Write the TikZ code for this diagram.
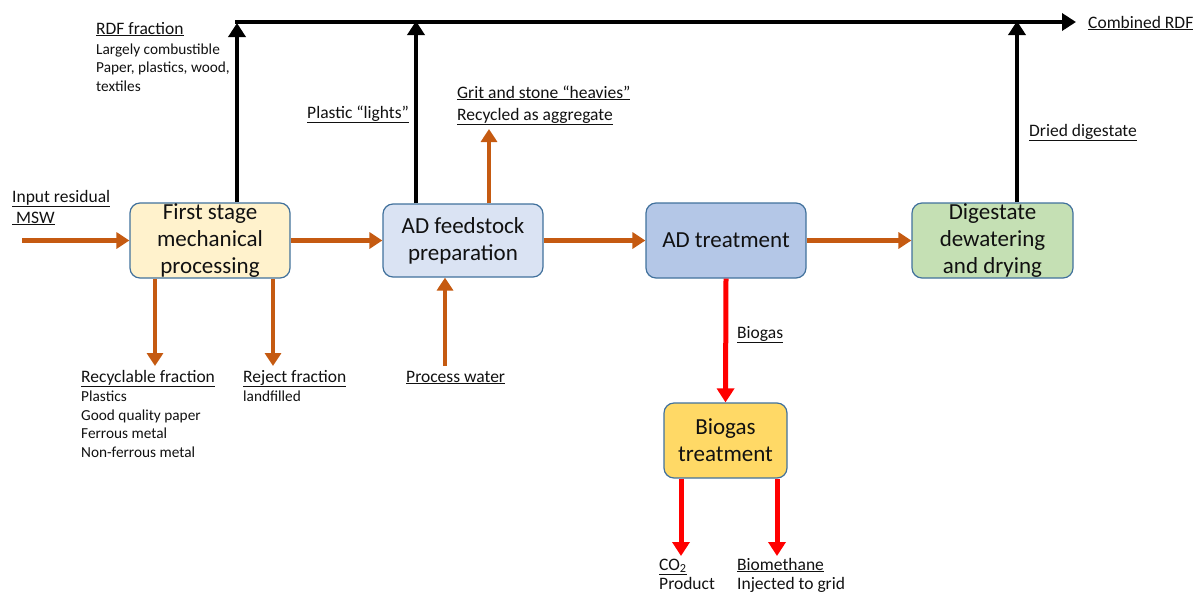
\documentclass[tikz,border=0pt]{standalone}
\usepackage{fontspec}
\setmainfont{Carlito}
\usetikzlibrary{arrows.meta}
\definecolor{boxedge}{HTML}{41719C}
\definecolor{firstfill}{HTML}{FFF2CC}
\definecolor{feedfill}{HTML}{DAE3F3}
\definecolor{adfill}{HTML}{B4C7E7}
\definecolor{digfill}{HTML}{C5E0B4}
\definecolor{biofill}{HTML}{FFD966}
\definecolor{flowor}{HTML}{C55A11}
\definecolor{flowred}{HTML}{FF0000}
\definecolor{txt}{HTML}{111111}
\tikzset{
  procbox/.style={draw=boxedge, line width=1.2pt, rounded corners=10pt, inner sep=0pt, align=center, text=txt,
     font=\fontsize{23}{27}\selectfont},
  orflow/.style={draw=flowor, line width=4.5pt, -{Triangle[length=13pt,width=16pt]}},
  blkflow/.style={draw=black, line width=4.5pt, -{Triangle[length=14pt,width=17pt]}},
  redflow/.style={draw=flowred, line width=5pt, -{Triangle[length=14pt,width=17pt]}},
  lab/.style={anchor=base west, inner sep=0pt, text=txt, font=\fontsize{17.5}{20}\selectfont},
  sublab/.style={anchor=base west, inner sep=0pt, text=txt, font=\fontsize{15.3}{18}\selectfont},
}
\begin{document}
\begin{tikzpicture}[x=1pt,y=-1pt]
\useasboundingbox (0,0) rectangle (1196,595);
% boxes
\node[procbox, fill=firstfill, minimum width=160pt, minimum height=75pt] (first) at (210,240.5) {First stage\\mechanical\\processing};
\node[procbox, fill=feedfill, minimum width=160pt, minimum height=73pt] (feed) at (463,240.5) {AD feedstock\\preparation};
\node[procbox, fill=adfill, minimum width=160pt, minimum height=75pt] (ad) at (726,240.5) {AD treatment};
\node[procbox, fill=digfill, minimum width=161pt, minimum height=75pt] (dig) at (992.5,240.5) {Digestate\\dewatering\\and drying};
\node[procbox, fill=biofill, minimum width=123pt, minimum height=75pt] (bio) at (725.5,440.5) {Biogas\\treatment};

% coordinates
\coordinate (inStart) at (22,240.5);
\coordinate (topL) at (237,22);
\coordinate (topR) at (1076,22);
\coordinate (recEnd) at (155,366);
\coordinate (rejEnd) at (273,366);
\coordinate (waterStart) at (445,366);
\coordinate (gritEnd) at (489,129);
\coordinate (co2End) at (681,556);
\coordinate (methEnd) at (777,556);

% orange flows
\draw[orflow] (inStart) -- (first.west);
\draw[orflow] (first.east) -- (feed.west);
\draw[orflow] (feed.east) -- (ad.west);
\draw[orflow] (ad.east) -- (dig.west);
\draw[orflow] (first.south -| recEnd) -- (recEnd);
\draw[orflow] (first.south -| rejEnd) -- (rejEnd);
\draw[orflow] (waterStart) -- (waterStart |- feed.south);
\draw[orflow] (feed.north -| gritEnd) -- (gritEnd);

% black flows
\draw[black, line width=4.5pt] (topL) -- ([xshift=-10pt]topR);
\draw[blkflow] ([xshift=-2pt]topL) -- (topR);
\draw[blkflow] (first.north -| topL) -- ([yshift=-1pt]topL);
\draw[blkflow] (feed.north -| 416,0) -- (416,21);
\draw[blkflow] (dig.north -| 1017,0) -- (1017,21);

% red flows
\draw[redflow] (ad.south) -- (bio.north);
\draw[redflow] (bio.south -| co2End) -- (co2End);
\draw[redflow] (bio.south -| methEnd) -- (methEnd);

% labels
\node[lab] (rdf) at (96,34) {\underline{RDF fraction}};
\node[sublab] (rdf1) at (96,54) {Largely combustible};
\node[sublab] (rdf2) at (96,72) {Paper, plastics, wood,};
\node[sublab] (rdf3) at (96,91) {textiles};
\node[lab] (lights) at (307,118) {\underline{Plastic “lights”}};
\node[lab] (grit1) at (457,98) {\underline{Grit and stone “heavies”}};
\node[lab] (grit2) at (457,120) {\underline{Recycled as aggregate}};
\node[lab] (in1) at (12,202) {\underline{Input residual}};
\node[lab] (in2) at (12,223) {\underline{\ MSW}};
\node[lab] (rec) at (81,382) {\underline{Recyclable fraction}};
\node[sublab] (rec1) at (81,401) {Plastics};
\node[sublab] (rec2) at (81,420) {Good quality paper};
\node[sublab] (rec3) at (81,438) {Ferrous metal};
\node[sublab] (rec4) at (81,457) {Non-ferrous metal};
\node[lab] (rej) at (243,382) {\underline{Reject fraction}};
\node[sublab] (rej1) at (243,401) {landfilled};
\node[lab] (water) at (406,382) {\underline{Process water}};
\node[lab] (biogas) at (737,338) {\underline{Biogas}};
\node[lab] (dried) at (1029,136) {\underline{Dried digestate}};
\node[lab] (comb) at (1088,28) {\underline{Combined RDF}};
\node[lab] (co2) at (659,570) {\underline{CO\textsubscript{2}}};
\node[lab] (co2b) at (659,589) {Product};
\node[lab] (meth) at (737,570) {\underline{Biomethane}};
\node[lab] (methb) at (737,589) {Injected to grid};
\end{tikzpicture}
\end{document}
